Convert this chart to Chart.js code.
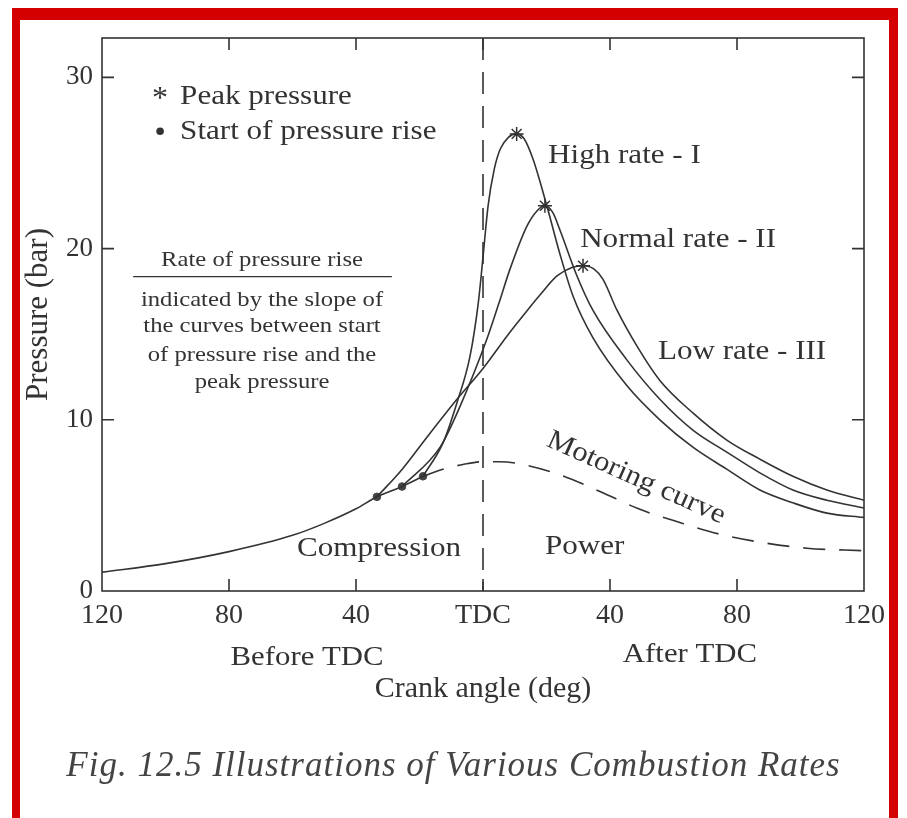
<!DOCTYPE html>
<html>
<head>
<meta charset="utf-8">
<script src="https://cdn.jsdelivr.net/npm/chart.js@4.4.1/dist/chart.umd.min.js"></script>
<style>
  html, body { margin: 0; padding: 0; background: #fff; }
  #page { position: relative; width: 907px; height: 818px; overflow: hidden; background: #fff; }
  #frame { position: absolute; left: 12px; top: 8px; width: 886px; height: 840px; box-sizing: border-box;
           border-top: 12px solid #d40000; border-left: 8px solid #d40000; border-right: 9px solid #d40000; }
  #chart { position: absolute; left: 0; top: 0; }
  #caption { position: absolute; left: 0; top: 745px; width: 907px; text-align: center; letter-spacing: 1px;
             font: italic 35px "Liberation Serif", serif; color: #444; }
</style>
</head>
<body>
<div id="page">
  <div id="frame"></div>
  <canvas id="chart" width="907" height="818"></canvas>
  <div id="caption">Fig. 12.5 Illustrations of Various Combustion Rates</div>
</div>
<script>
// common compression line up to the last start of pressure rise
const compressionX = [-120, -100, -80, -60, -50, -40, -33.4, -25.5, -18.9];
const compressionP = [1.1, 1.6, 2.3, 3.25, 3.95, 4.8, 5.5, 6.1, 6.7];

// motoring (no combustion), dashed
const motoringX = [-18.9, -12.9, -6, 0, 5, 11, 24, 37, 49, 62, 75, 89, 102, 120];
const motoringP = [6.7, 7.1, 7.4, 7.55, 7.55, 7.45, 6.8, 5.8, 4.8, 4.0, 3.3, 2.8, 2.5, 2.35];

// high rate - I
const highX = [-18.9, -12.6, -8.2, -4.1, -1.5, 0, 1.6, 3.5, 5.4, 8, 10.6, 13, 15.8, 20.1, 24.2, 28.4, 34.6, 45.3, 55.7, 66.1, 76.9, 87.2, 97.6, 108.3, 120];
const highP = [6.7, 8.65, 11.0, 13.7, 16.8, 19.5, 22.5, 24.6, 25.8, 26.5, 26.7, 26.4, 25.2, 22.5, 19.7, 17.2, 14.8, 12.0, 10.0, 8.4, 7.1, 5.9, 5.15, 4.55, 4.3];

// normal rate - II
const normalX = [-25.5, -13.5, -7.2, 1.2, 5, 8.5, 13.8, 17, 19.5, 22, 24.2, 29.6, 34.6, 45.3, 55.7, 66.1, 76.9, 87.2, 97.6, 108.3, 120];
const normalP = [6.1, 8.4, 10.8, 14.7, 16.8, 18.8, 21.3, 22.2, 22.5, 22.1, 21.1, 18.4, 16.4, 13.5, 11.2, 9.4, 8.1, 6.9, 5.9, 5.3, 4.85];

// low rate - III
const lowX = [-33.4, -25.5, -17.6, -8.2, 0, 8, 14, 18, 23.3, 28, 31.5, 35, 37.8, 42.2, 48.5, 55.7, 66.1, 76.9, 87.2, 97.6, 108.3, 120];
const lowP = [5.5, 7.1, 9.0, 11.2, 13.0, 15.0, 16.4, 17.3, 18.4, 18.9, 19.0, 18.8, 18.2, 16.4, 14.3, 12.3, 10.4, 8.8, 7.7, 6.7, 5.9, 5.3];

// markers
const peakX = [10.6, 19.5, 31.5];
const peakP = [26.7, 22.5, 19.0];
const startX = [-33.4, -25.5, -18.9];
const startP = [5.5, 6.1, 6.7];

const xTickValues = [-120, -80, -40, 0, 40, 80, 120];
const xTickLabels = ['120', '80', '40', 'TDC', '40', '80', '120'];
const yTickValues = [0, 10, 20, 30];
const yTickLabels = ['0', '10', '20', '30'];

const ink = '#333';
const serif = '"Liberation Serif", "Times New Roman", serif';
const pts = (xs, ys) => xs.map((x, i) => ({ x, y: ys[i] }));

function curve(xs, ys, dash) {
    return {
        type: 'line',
        data: pts(xs, ys),
        borderColor: ink,
        borderWidth: 1.6,
        borderDash: dash || [],
        pointRadius: 0,
        cubicInterpolationMode: 'monotone',
        fill: false
    };
}

const notes = [
    { text: 'High rate - I', x: 20.5, y: 25.4 },
    { text: 'Normal rate - II', x: 30.6, y: 20.5 },
    { text: 'Low rate - III', x: 55.1, y: 14.0 },
    { text: 'Compression', x: -58.6, y: 2.5 },
    { text: 'Power', x: 19.5, y: 2.57 },
    { text: 'Peak pressure', x: -95.4, y: 28.9 },
    { text: 'Start of pressure rise', x: -95.4, y: 26.85 }
];
const fraction = ['indicated by the slope of', 'the curves between start', 'of pressure rise and the', 'peak pressure'];

// text slightly wider than the font, like the scan
function say(ctx, str, px, py, align, stretch) {
    ctx.save();
    ctx.translate(px, py);
    ctx.scale(stretch, 1);
    ctx.textAlign = align;
    ctx.fillText(str, 0, 0);
    ctx.restore();
}

const figure = {
    id: 'figure',
    beforeDatasetsDraw(chart) {
        const { ctx, chartArea: a, scales: { x, y } } = chart;
        ctx.save();
        ctx.strokeStyle = ink;
        ctx.lineWidth = 1.6;
        ctx.strokeRect(a.left, a.top, a.right - a.left, a.bottom - a.top);
        ctx.beginPath();
        xTickValues.slice(1, -1).forEach(v => {
            const px = x.getPixelForValue(v);
            ctx.moveTo(px, a.top); ctx.lineTo(px, a.top + 12);
            ctx.moveTo(px, a.bottom); ctx.lineTo(px, a.bottom - 12);
        });
        yTickValues.slice(1).forEach(v => {
            const py = y.getPixelForValue(v);
            ctx.moveTo(a.left, py); ctx.lineTo(a.left + 12, py);
            ctx.moveTo(a.right, py); ctx.lineTo(a.right - 12, py);
        });
        ctx.stroke();
        // TDC line
        ctx.setLineDash([22, 12]);
        ctx.beginPath();
        const x0 = x.getPixelForValue(0);
        ctx.moveTo(x0, a.top);
        ctx.lineTo(x0, a.bottom);
        ctx.stroke();
        ctx.restore();
    },
    afterDraw(chart) {
        const { ctx, chartArea: a, scales: { x, y } } = chart;
        ctx.save();
        ctx.fillStyle = ink;
        ctx.textBaseline = 'middle';
        ctx.font = '28px ' + serif;
        notes.forEach(n => say(ctx, n.text, x.getPixelForValue(n.x), y.getPixelForValue(n.y), 'left', 1.11));

        ctx.font = '32px ' + serif;
        say(ctx, '*', x.getPixelForValue(-101.7), y.getPixelForValue(28.9) + 3, 'center', 1);
        ctx.beginPath();
        ctx.arc(x.getPixelForValue(-101.7), y.getPixelForValue(26.85), 3.8, 0, Math.PI * 2);
        ctx.fill();

        // motoring label
        ctx.font = '28px ' + serif;
        ctx.save();
        ctx.translate(x.getPixelForValue(48.2), y.getPixelForValue(6.6));
        ctx.rotate(24 * Math.PI / 180);
        say(ctx, 'Motoring curve', 0, 0, 'center', 1.1);
        ctx.restore();

        // fraction note
        const cx = x.getPixelForValue(-69.6);
        ctx.font = '22px ' + serif;
        say(ctx, 'Rate of pressure rise', cx, y.getPixelForValue(19.3), 'center', 1.12);
        ctx.beginPath();
        ctx.lineWidth = 1.4;
        ctx.strokeStyle = ink;
        ctx.moveTo(x.getPixelForValue(-110.2), y.getPixelForValue(18.36));
        ctx.lineTo(x.getPixelForValue(-28.7), y.getPixelForValue(18.36));
        ctx.stroke();
        [17.0, 15.44, 13.8, 12.2].forEach((p, i) => say(ctx, fraction[i], cx, y.getPixelForValue(p), 'center', 1.12));

        // below the axis
        ctx.font = '28px ' + serif;
        say(ctx, 'Before TDC', x.getPixelForValue(-55.4), a.bottom + 67, 'center', 1.1);
        say(ctx, 'After TDC', x.getPixelForValue(65.2), a.bottom + 64, 'center', 1.1);
        ctx.restore();
    }
};

new Chart(document.getElementById('chart'), {
    data: {
        datasets: [
            curve(compressionX, compressionP),
            curve(motoringX, motoringP, [22, 14]),
            curve(highX, highP),
            curve(normalX, normalP),
            curve(lowX, lowP),
            {
                type: 'scatter', data: pts(peakX, peakP), pointStyle: 'star',
                pointRadius: 7, borderColor: ink, borderWidth: 1.5, showLine: false
            },
            {
                type: 'scatter', data: pts(startX, startP), pointStyle: 'circle',
                pointRadius: 3.8, backgroundColor: '#444', borderColor: '#444', showLine: false
            }
        ]
    },
    options: {
        responsive: false,
        animation: false,
        layout: { padding: { left: 18, top: 38, right: 43, bottom: 107 } },
        plugins: { legend: { display: false }, tooltip: { enabled: false } },
        scales: {
            x: {
                type: 'linear', min: -120, max: 120,
                afterBuildTicks: s => { s.ticks = xTickValues.map(v => ({ value: v })); },
                afterFit: s => { s.height = 120; },
                ticks: {
                    autoSkip: false, maxRotation: 0, padding: 8, color: ink,
                    font: { family: serif, size: 28 },
                    callback: v => xTickLabels[xTickValues.indexOf(v)]
                },
                grid: { display: false, drawTicks: false },
                border: { display: false },
                title: {
                    display: true, text: 'Crank angle (deg)', color: ink,
                    font: { family: serif, size: 30 }, padding: { bottom: 4 }
                }
            },
            y: {
                type: 'linear', min: 0, max: 32.3,
                afterBuildTicks: s => { s.ticks = yTickValues.map(v => ({ value: v })); },
                afterFit: s => { s.width = 84; },
                ticks: {
                    padding: 9, color: ink,
                    font: { family: serif, size: 27 },
                    callback: v => yTickLabels[yTickValues.indexOf(v)]
                },
                grid: { display: false, drawTicks: false },
                border: { display: false },
                title: {
                    display: true, text: 'Pressure (bar)', color: ink,
                    font: { family: serif, size: 31 }, padding: { top: 2 }
                }
            }
        }
    },
    plugins: [figure]
});
</script>
</body>
</html>
